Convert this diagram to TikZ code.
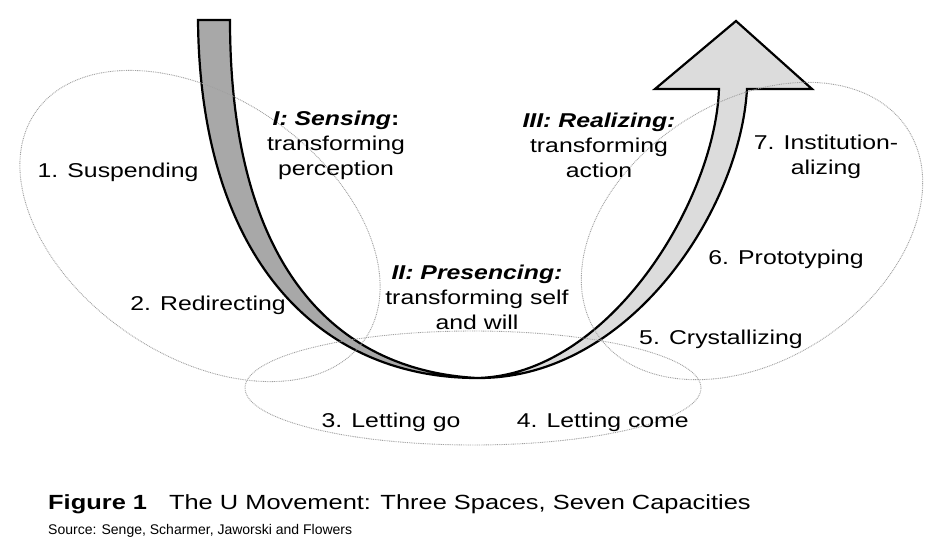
\documentclass[tikz,border=0pt]{standalone}
\usepackage{fontspec}
\setmainfont[FakeStretch=1.24]{Liberation Sans}
\newfontfamily\srcfont{Liberation Sans}
\usetikzlibrary{positioning}
\definecolor{downgray}{HTML}{A8A8A8}
\definecolor{upgray}{HTML}{DCDCDC}
\definecolor{dotgray}{HTML}{A0A0A0}

\begin{document}
\begin{tikzpicture}[
    x=1pt, y=-1pt,
    capacity/.style={
        font=\fontsize{20}{25}\selectfont,
        inner sep=0pt,
        anchor=base
    },
    phase/.style={
        font=\fontsize{20}{25}\selectfont,
        inner sep=0pt,
        align=center
    },
    space/.style={draw=dotgray,line width=0.9pt,dash pattern=on 0.9pt off 0.9pt},
    arm/.style={draw=black,line width=2.2pt,line join=miter}
]
\useasboundingbox (0,0) rectangle (943,551);

% the U: down the left, up the right
\path[arm,fill=downgray] (198,20) -- (230,20)
    .. controls (230,260) and (330,370) .. (477,378)
    .. controls (320,378) and (200,260) .. (198,20) -- cycle;
\path[arm,fill=upgray] (477,378)
    .. controls (610,375) and (715,200) .. (719,89)
    -- (655,89) -- (736,21) -- (812,89) -- (747,89)
    .. controls (740,210) and (630,378) .. (479,378) -- cycle;

% three spaces
\draw[space,rotate around={-34.7:(200,226)}] (200,226) ellipse [x radius=200,y radius=129];
\draw[space] (473,388) ellipse [x radius=228,y radius=57];
\draw[space,rotate around={33.5:(752,231)}] (752,231) ellipse [x radius=186,y radius=129];

% seven capacities
\node[capacity] (suspending) at (118,177) {1. Suspending};
\node[capacity] (redirecting) at (208,310) {2. Redirecting};
\node[capacity] (lettinggo) at (391,427) {3. Letting go};
\node[capacity,base right=56pt of lettinggo] (lettingcome) {4. Letting come};
\node[capacity] (crystallizing) at (721,344) {5. Crystallizing};
\node[capacity] (prototyping) at (786,264) {6. Prototyping};
\node[phase] (institution) at (826,157) {7. Institution-\\alizing};

% movements
\node[phase] (sensing) at (336,145) {\textbf{\textit{I: Sensing}:}\\transforming\\perception};
\node[phase] (presencing) at (477,297) {\textbf{\textit{II: Presencing:}}\\transforming self\\and will};
\node[phase] (realizing) at (599,145) {\textbf{\textit{III: Realizing:}}\\transforming\\action};

% caption
\node[anchor=base west,inner sep=0pt,font=\fontsize{20.5}{24}\selectfont] (caption) at (48,509)
    {\textbf{Figure 1}\hspace{22pt}The U Movement: Three Spaces, Seven Capacities};
\node[anchor=base west,inner sep=0pt,font=\srcfont\fontsize{14}{16}\selectfont] (source) at (48,534)
    {Source: Senge, Scharmer, Jaworski and Flowers};
\end{tikzpicture}
\end{document}
